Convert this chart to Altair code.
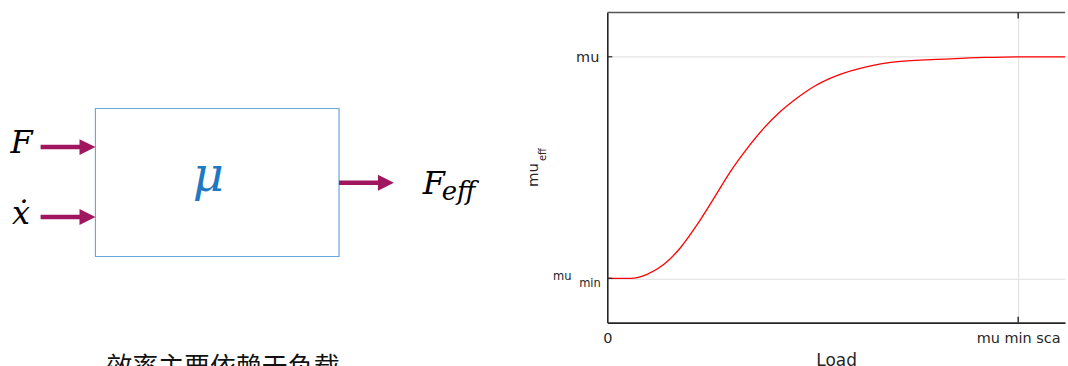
import altair as alt
import pandas as pd

# ---------------- right panel: effective friction vs load ----------------
load = [0.0, 0.057, 0.097, 0.138, 0.178, 0.219, 0.260, 0.300, 0.341, 0.381,
        0.422, 0.462, 0.503, 0.560, 0.633, 0.713, 0.835, 0.917, 1.002, 1.114]
mu_eff = [0.0, 0.0, 0.018, 0.063, 0.138, 0.243, 0.363, 0.483, 0.588, 0.678,
          0.754, 0.814, 0.866, 0.916, 0.956, 0.979, 0.991, 0.997, 1.0, 1.0]
x_tick_values = [0, 1]
x_tick_labels = ["0", "mu min sca"]
y_tick_top_value = [1]
y_tick_top_label = ["mu"]
y_tick_bottom_value = [0]
y_tick_bottom_main = ["mu"]
y_tick_bottom_sub = ["min"]
x_title = "Load"
y_title_main = ["mu"]
y_title_sub = ["eff"]
load_domain = [0, 1.114]
mu_domain = [-0.2, 1.2]

# ---------------- left panel: block diagram ----------------
box_x = [95.7, 340.0]
box_y = [107.3, 255.7]
arrow_y = [146.0, 216.0, 181.7]
arrow_start = [40.7, 40.7, 340.0]
arrow_tip = [95.7, 95.7, 395.0]
input_symbols = ["F", "ẋ"]
input_symbol_x = [21.7, 21.0]
input_symbol_y = [151.7, 222.7]
block_symbol = ["μ"]
block_symbol_x = [209.0]
block_symbol_y = [190.0]
output_main = ["F"]
output_main_x = [424.0]
output_main_y = [193.3]
output_sub = ["eff"]
output_sub_x = [443.0]
output_sub_y = [199.0]
caption = ["效率主要依赖于负载"]
caption_x = [106.7]
caption_y = [376.0]
diagram_x_domain = [0, 520]
diagram_y_domain = [11, 366]

ARROW = "#A0175F"
BOXC = "#6AA7DC"
MUC = "#1E78C2"
AX = "#262626"
GRID = "#dedede"
SANS = "DejaVu Sans"
SERIF = "DejaVu Serif"

# ================= left diagram =================
def dx(f):
    return alt.X(f, type="quantitative",
                 scale=alt.Scale(domain=diagram_x_domain, nice=False, zero=False), axis=None)

def dy(f):
    return alt.Y(f, type="quantitative",
                 scale=alt.Scale(domain=diagram_y_domain, nice=False, zero=False, reverse=True),
                 axis=None)

box_df = pd.DataFrame({"x": [box_x[0]], "x2": [box_x[1]], "y": [box_y[0]], "y2": [box_y[1]]})
box = alt.Chart(box_df).mark_rect(fillOpacity=0, stroke=BOXC, strokeWidth=1.2).encode(
    x=dx("x"), x2=alt.X2("x2"), y=dy("y"), y2=alt.Y2("y2"))

arr_df = pd.DataFrame({"y": arrow_y, "x": arrow_start, "tip": arrow_tip})
arr_df["xe"] = arr_df["tip"] - 12
shafts = alt.Chart(arr_df).mark_rule(color=ARROW, strokeWidth=4.5, strokeCap="butt").encode(
    x=dx("x"), x2=alt.X2("xe"), y=dy("y"))
heads = alt.Chart(arr_df).mark_point(shape="M -2 -1 L 0 0 L -2 1 Z", size=256, filled=True,
                                     opacity=1, color=ARROW, strokeWidth=0).encode(
    x=dx("tip"), y=dy("y"))

in_df = pd.DataFrame({"t": input_symbols, "x": input_symbol_x, "y": input_symbol_y})
in_txt = alt.Chart(in_df).mark_text(font=SERIF, fontStyle="italic", fontSize=32, align="center",
                                    baseline="alphabetic", color="#000000").encode(
    x=dx("x"), y=dy("y"), text="t:N")

mu_df = pd.DataFrame({"t": block_symbol, "x": block_symbol_x, "y": block_symbol_y})
mu_txt = alt.Chart(mu_df).mark_text(font=SERIF, fontStyle="italic", fontSize=48, align="center",
                                    baseline="alphabetic", color=MUC).encode(
    x=dx("x"), y=dy("y"), text="t:N")

out_df = pd.DataFrame({"t": output_main, "x": output_main_x, "y": output_main_y})
out_txt = alt.Chart(out_df).mark_text(font=SERIF, fontStyle="italic", fontSize=32, align="left",
                                      baseline="alphabetic", color="#000000").encode(
    x=dx("x"), y=dy("y"), text="t:N")
sub_df = pd.DataFrame({"t": output_sub, "x": output_sub_x, "y": output_sub_y})
sub_txt = alt.Chart(sub_df).mark_text(font=SERIF, fontStyle="italic", fontSize=26, align="left",
                                      baseline="alphabetic", color="#000000").encode(
    x=dx("x"), y=dy("y"), text="t:N")

cap_df = pd.DataFrame({"t": caption, "x": caption_x, "y": caption_y})
cap_txt = alt.Chart(cap_df).mark_text(font="Noto Sans CJK SC", fontSize=26, align="left",
                                      baseline="alphabetic", color="#111111", clip=True).encode(
    x=dx("x"), y=dy("y"), text="t:N")

left = alt.layer(box, shafts, heads, in_txt, mu_txt, out_txt, sub_txt, cap_txt).properties(
    width=520, height=355)

# ================= right plot =================
label_expr = "".join(f"datum.value == {v} ? '{l}' : " for v, l in zip(x_tick_values, x_tick_labels)) + "''"

x_enc = alt.X("load:Q", scale=alt.Scale(domain=load_domain, nice=False, zero=False),
              axis=alt.Axis(values=x_tick_values, labelExpr=label_expr, grid=True, gridColor=GRID,
                            gridWidth=1, ticks=False, tickSize=0, labelPadding=9, labelFlush=False,
                            labelFont=SANS, labelFontSize=14.5, labelColor=AX,
                            domainColor=AX, domainWidth=1.6, title=x_title, titleFont=SANS,
                            titleFontSize=17, titleFontWeight="normal", titleColor=AX,
                            titleBaseline="alphabetic", titleY=43))
y_enc = alt.Y("mu:Q", scale=alt.Scale(domain=mu_domain, nice=False, zero=False),
              axis=alt.Axis(values=[0, 1], labels=False, ticks=False, tickSize=0, grid=True,
                            gridColor=GRID, gridWidth=1, domainColor=AX, domainWidth=1.6, title=None))

curve_df = pd.DataFrame({"load": load, "mu": mu_eff})
curve = alt.Chart(curve_df).mark_line(color="#ff0000", strokeWidth=1.3, interpolate="monotone").encode(
    x=x_enc, y=y_enc)

one = pd.DataFrame({"k": [0]})
top_border = alt.Chart(one).mark_rule(color="#555555", strokeWidth=1.4).encode(
    x=alt.value(0), x2=alt.value(459), y=alt.value(0))

ytick_df = pd.DataFrame({"mu": [0, 1]})
yticks = alt.Chart(ytick_df).mark_rule(color=AX, strokeWidth=1.2).encode(
    x=alt.value(0), x2=alt.value(5), y=y_enc)

xtick_df = pd.DataFrame({"load": [1]})
xticks_b = alt.Chart(xtick_df).mark_rule(color=AX, strokeWidth=1.4).encode(
    x=x_enc, y=alt.value(311), y2=alt.value(305))
xticks_t = alt.Chart(xtick_df).mark_rule(color=AX, strokeWidth=1.4).encode(
    x=x_enc, y=alt.value(0), y2=alt.value(6))

ytop_df = pd.DataFrame({"mu": y_tick_top_value, "t": y_tick_top_label})
ytop = alt.Chart(ytop_df).mark_text(font=SANS, fontSize=14.5, align="right", baseline="alphabetic",
                                    color=AX, dy=5).encode(
    x=alt.value(-8), y=y_enc, text="t:N")
ybot_df = pd.DataFrame({"mu": y_tick_bottom_value, "t": y_tick_bottom_main, "s": y_tick_bottom_sub})
ybot_main = alt.Chart(ybot_df).mark_text(font=SANS, fontSize=11.5, align="right", baseline="alphabetic",
                                         color=AX, dy=2).encode(
    x=alt.value(-36), y=y_enc, text="t:N")
ybot_sub = alt.Chart(ybot_df).mark_text(font=SANS, fontSize=11.5, align="right", baseline="alphabetic",
                                        color=AX, dy=8.5).encode(
    x=alt.value(-6.5), y=y_enc, text="s:N")

yt_df = pd.DataFrame({"t": y_title_main, "s": y_title_sub})
ytitle_main = alt.Chart(yt_df).mark_text(font=SANS, fontSize=15, align="left", baseline="alphabetic",
                                         angle=270, color=AX).encode(
    x=alt.value(-69), y=alt.value(175), text="t:N")
ytitle_sub = alt.Chart(yt_df).mark_text(font=SANS, fontSize=10, align="left", baseline="alphabetic",
                                        angle=270, color=AX).encode(
    x=alt.value(-61), y=alt.value(149), text="s:N")

right = alt.layer(curve, top_border, yticks, xticks_b, xticks_t, ytop, ybot_main, ybot_sub,
                  ytitle_main, ytitle_sub).properties(width=459, height=311)

chart = alt.hconcat(left, right, spacing=89, bounds="flush").configure_view(
    stroke=None).properties(padding={"left": 0, "top": 11, "right": 0, "bottom": 0},
                            background="#ffffff")

chart.save("out.html", embed_options={"renderer": "svg", "actions": False})
